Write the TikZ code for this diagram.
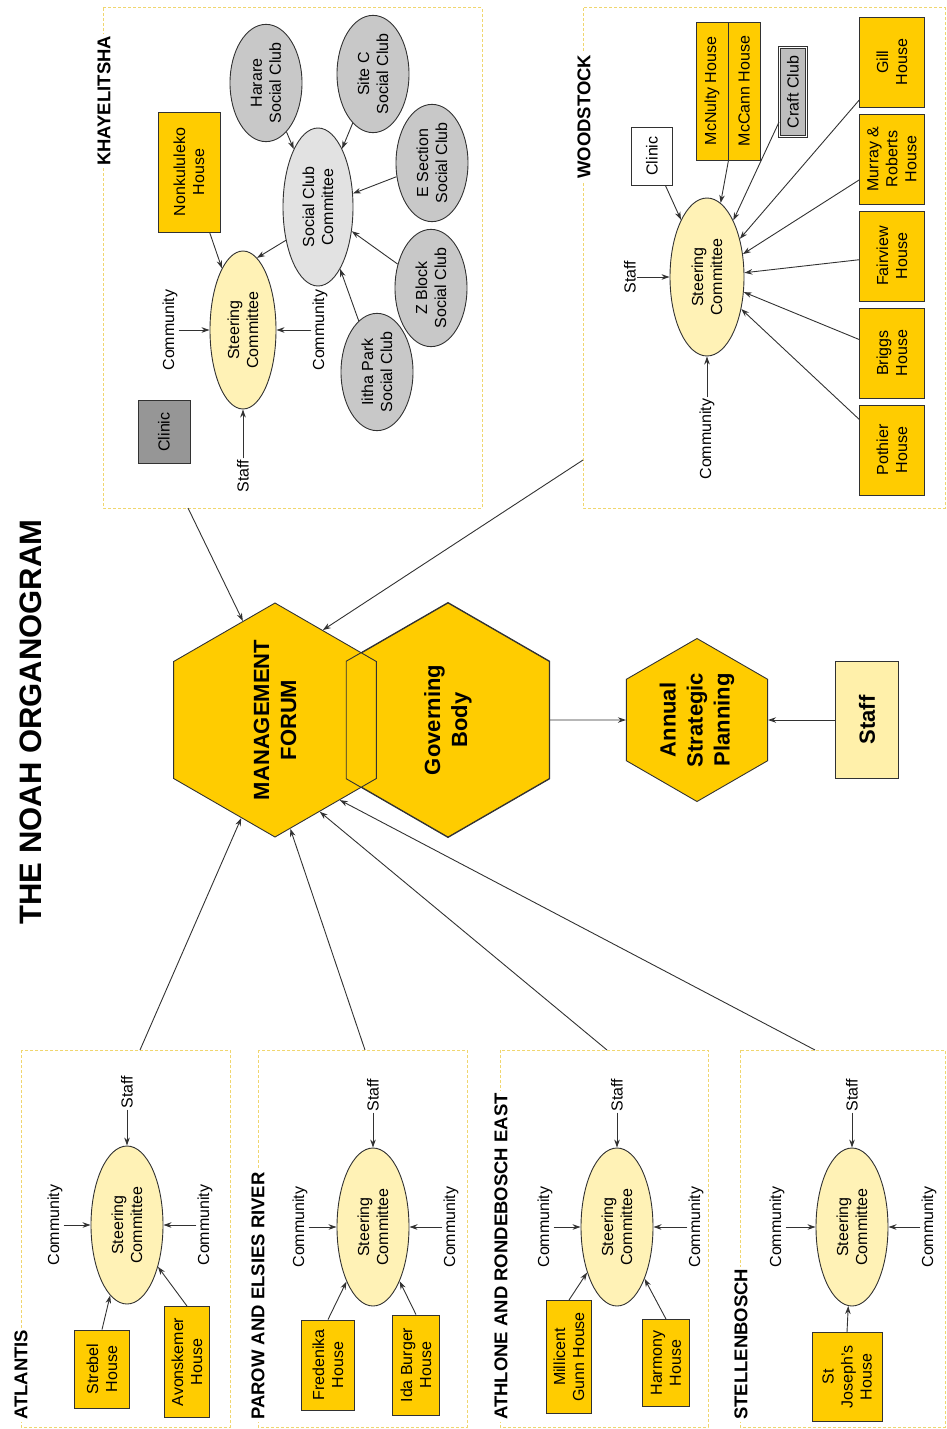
\documentclass[tikz,border=0pt]{standalone}
\usepackage{fontspec}
\setmainfont{Liberation Sans}
\usetikzlibrary{arrows.meta,shapes.geometric}
\definecolor{gold}{RGB}{255,204,0}
\definecolor{paleyellow}{RGB}{255,242,182}
\definecolor{staffyellow}{RGB}{255,240,170}
\definecolor{zoneyellow}{RGB}{240,214,110}
\definecolor{linegray}{RGB}{50,50,50}
\definecolor{clubgray}{RGB}{200,200,200}
\definecolor{sccgray}{RGB}{226,226,226}
\definecolor{clinicgray}{RGB}{150,150,150}
\definecolor{craftgray}{RGB}{190,190,190}
\newcommand{\boxfont}{\fontsize{16}{19}\selectfont}
\newcommand{\regfont}{\bfseries\fontsize{18.5}{22}\selectfont}
\newcommand{\hexfont}{\bfseries\fontsize{22}{27}\selectfont}
\newcommand{\headfont}{\bfseries\fontsize{31}{36}\selectfont}

\begin{document}
\begin{tikzpicture}[x=1pt, y=-1pt,
	every node/.style={rotate=90, font=\boxfont, align=center, inner sep=1pt},
	house/.style={rectangle, draw=linegray, line width=0.9pt, fill=gold},
	steer/.style={ellipse, draw=linegray, line width=0.9pt, fill=paleyellow, minimum width=158, minimum height=72},
	club/.style={ellipse, draw=linegray, line width=0.9pt, fill=clubgray, minimum width=114, minimum height=72},
	hexa/.style={regular polygon, regular polygon sides=6, draw=linegray, line width=0.9pt, fill=gold, font=\hexfont, inner sep=0pt},
	region/.style={fill=white, font=\regfont, anchor=west, inner sep=2pt},
	zone/.style={draw=zoneyellow, line width=1pt, dash pattern=on 3pt off 2pt},
	arr/.style={draw=linegray, line width=0.9pt, -{Stealth[length=8pt,width=5.5pt]}}]
	\useasboundingbox (0,0) rectangle (946,1429);
	
	\node[font=\headfont] (title) at (31,722) {THE NOAH ORGANOGRAM};
	
	\node[hexa, minimum size=234] (gb) at (448,720) {Governing\\Body};
	\node[hexa, minimum size=234, inner sep=-15pt] (mf) at (275,720) {MANAGEMENT\\FORUM};
	\draw[draw=linegray, line width=0.9pt] (gb.corner 1) foreach \i in {2,...,6} {-- (gb.corner \i)} -- cycle;
	\node[hexa, minimum size=163] (asp) at (697,720) {Annual\\Strategic\\Planning};
	\node[rectangle, draw=linegray, line width=0.9pt, fill=staffyellow, font=\hexfont, minimum width=117, minimum height=63] (staff-main) at (867,720) {Staff};
	
	\path (gb) edge[arr] (asp);
	\path (staff-main) edge[arr] (asp);
	
	% Khayelitsha
	\draw[zone] (103,8) rectangle (482,508);
	\node[region] (khay-lab) at (104,168) {KHAYELITSHA};
	\node[steer, minimum height=66] (sc-kh) at (243,330) {Steering\\Committee};
	\node (comm-kh1) at (170,330) {Community};
	\node (comm-kh2) at (320,330) {Community};
	\node (staff-kh) at (243,476) {Staff};
	\node[house, fill=clinicgray, minimum width=63, minimum height=52] (clinic-kh) at (164,432) {Clinic};
	\node[house, minimum width=120, minimum height=62] (nonk) at (189,172) {Nonkululeko\\House};
	\node[club, fill=sccgray, minimum width=158, minimum height=70] (scc) at (318,207) {Social Club\\Committee};
	\node[club] (harare) at (266,83) {Harare\\Social Club};
	\node[club] (sitec) at (373,74) {Site C\\Social Club};
	\node[club] (esec) at (432,163) {E Section\\Social Club};
	\node[club] (zblock) at (431,288) {Z Block\\Social Club};
	\node[club] (iitha) at (377,372) {Iitha Park\\Social Club};
	
	\path (comm-kh1) edge[arr] (sc-kh);
	\path (comm-kh2) edge[arr] (sc-kh);
	\path (staff-kh) edge[arr] (sc-kh);
	\path (nonk) edge[arr] (sc-kh);
	\path (scc.136) edge[arr] (sc-kh.349);
	\path (harare) edge[arr] (scc);
	\path (sitec) edge[arr] (scc);
	\path (esec) edge[arr] (scc);
	\path (zblock) edge[arr] (scc);
	\path (iitha) edge[arr] (scc);
	
	% Woodstock
	\draw[zone] (583,8) rectangle (945,508);
	\node[region] (wood-lab) at (584,181) {WOODSTOCK};
	\node[steer, minimum height=74] (sc-wd) at (707,277) {Steering\\Committee};
	\node (staff-wd) at (630,277) {Staff};
	\node (comm-wd) at (707,439) {Community};
	\node[house, fill=white, minimum width=58, minimum height=41] (clinic-wd) at (652,156) {Clinic};
	\node[house, minimum width=138, minimum height=32] (mcnulty) at (712,91) {McNulty House};
	\node[house, minimum width=138, minimum height=32] (mccann) at (744,91) {McCann House};
	\node[house, fill=craftgray, double, double distance=1pt, minimum width=89, minimum height=27] (craft) at (793,92) {Craft Club};
	\node[house, minimum width=90, minimum height=65] (gill) at (892,62) {Gill\\House};
	\node[house, minimum width=90, minimum height=65] (murray) at (892,159) {Murray \&\\Roberts\\House};
	\node[house, minimum width=90, minimum height=65] (fairview) at (892,256) {Fairview\\House};
	\node[house, minimum width=90, minimum height=65] (briggs) at (892,353) {Briggs\\House};
	\node[house, minimum width=90, minimum height=65] (pothier) at (892,450) {Pothier\\House};
	
	\path (staff-wd) edge[arr] (sc-wd);
	\path (comm-wd) edge[arr] (sc-wd);
	\path (clinic-wd) edge[arr] (sc-wd);
	\path (mcnulty.south west) edge[arr] (sc-wd);
	\path (craft) edge[arr] (sc-wd);
	\path (gill) edge[arr] (sc-wd);
	\path (murray) edge[arr] (sc-wd);
	\path (fairview) edge[arr] (sc-wd);
	\path (briggs) edge[arr] (sc-wd);
	\path (pothier) edge[arr] (sc-wd);
	
	% Atlantis
	\draw[zone] (21,1050) rectangle (230,1427);
	\node[region] (atl-lab) at (21,1422) {ATLANTIS};
	\node[steer] (sc-at) at (127,1225) {Steering\\Committee};
	\node (comm-at1) at (55,1225) {Community};
	\node (comm-at2) at (205,1225) {Community};
	\node (staff-at) at (127,1092) {Staff};
	\node[house, minimum width=78, minimum height=55] (strebel) at (102,1369) {Strebel\\House};
	\node[house, minimum width=111, minimum height=45] (avon) at (187,1362) {Avonskemer\\House};
	
	\path (comm-at1) edge[arr] (sc-at);
	\path (comm-at2) edge[arr] (sc-at);
	\path (staff-at) edge[arr] (sc-at);
	\path (strebel.east) edge[arr] (sc-at);
	\path (avon.east) edge[arr] (sc-at);
	
	% Parow and Elsies River
	\draw[zone] (258,1050) rectangle (467,1427);
	\node[region] (par-lab) at (258,1422) {PAROW AND ELSIES RIVER};
	\node[steer] (sc-pa) at (373,1227) {Steering\\Committee};
	\node (comm-pa1) at (300,1227) {Community};
	\node (comm-pa2) at (451,1227) {Community};
	\node (staff-pa) at (373,1095) {Staff};
	\node[house, minimum width=90, minimum height=53] (fredenika) at (328,1365) {Fredenika\\House};
	\node[house, minimum width=100, minimum height=47] (idaburger) at (416,1365) {Ida Burger\\House};
	
	\path (comm-pa1) edge[arr] (sc-pa);
	\path (comm-pa2) edge[arr] (sc-pa);
	\path (staff-pa) edge[arr] (sc-pa);
	\path (fredenika.east) edge[arr] (sc-pa);
	\path (idaburger.east) edge[arr] (sc-pa);
	
	% Athlone and Rondebosch East
	\draw[zone] (500,1050) rectangle (708,1427);
	\node[region] (ath-lab) at (501,1422) {ATHLONE AND RONDEBOSCH EAST};
	\node[steer] (sc-ath) at (617,1227) {Steering\\Committee};
	\node (comm-ath1) at (545,1227) {Community};
	\node (comm-ath2) at (696,1227) {Community};
	\node (staff-ath) at (617,1095) {Staff};
	\node[house, minimum width=113, minimum height=45] (millicent) at (569,1357) {Millicent\\Gunn House};
	\node[house, minimum width=87, minimum height=47] (harmony) at (666,1363) {Harmony\\House};
	
	\path (comm-ath1) edge[arr] (sc-ath);
	\path (comm-ath2) edge[arr] (sc-ath);
	\path (staff-ath) edge[arr] (sc-ath);
	\path (millicent.east) edge[arr] (sc-ath);
	\path (harmony.east) edge[arr] (sc-ath);
	
	% Stellenbosch
	\draw[zone] (740,1050) rectangle (945,1427);
	\node[region] (stel-lab) at (741,1422) {STELLENBOSCH};
	\node[steer] (sc-st) at (852,1227) {Steering\\Committee};
	\node (comm-st1) at (777,1227) {Community};
	\node (comm-st2) at (929,1227) {Community};
	\node (staff-st) at (852,1095) {Staff};
	\node[house, minimum width=89, minimum height=70] (stjoseph) at (847,1377) {St\\Joseph's\\House};
	
	\path (comm-st1) edge[arr] (sc-st);
	\path (comm-st2) edge[arr] (sc-st);
	\path (staff-st) edge[arr] (sc-st);
	\path (stjoseph.east) edge[arr] (sc-st);
	
	% links to the forum
	\coordinate (khay-out) at (188,508);
	\coordinate (wood-out) at (583,460);
	\coordinate (atl-out) at (140,1050);
	\coordinate (par-out) at (365,1050);
	\coordinate (ath-out) at (607,1050);
	\coordinate (stel-out) at (815,1050);
	
	\path (khay-out) edge[arr] (mf.18);
	\path (wood-out) edge[arr] (mf.332);
	\path (atl-out) edge[arr] (mf.161);
	\path (par-out) edge[arr] (mf.188);
	\path (ath-out) edge[arr] (mf.206);
	\path (stel-out) edge[arr] (mf.219);
\end{tikzpicture}
\end{document}
